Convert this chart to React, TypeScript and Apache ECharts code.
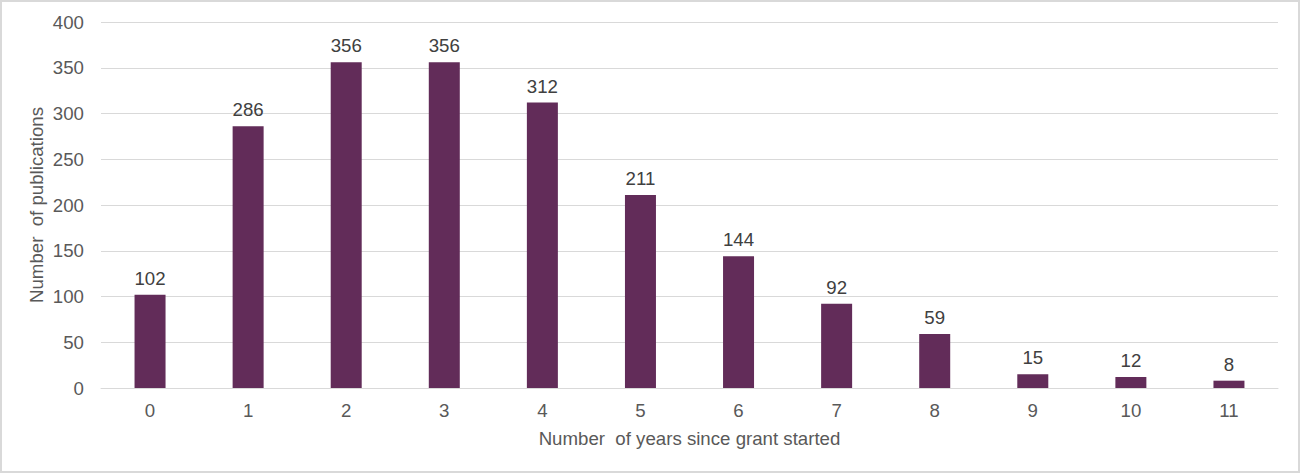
import React, { useEffect, useRef } from "react";
import * as echarts from "echarts";

const categories = ["0", "1", "2", "3", "4", "5", "6", "7", "8", "9", "10", "11"];
const publications = [102, 286, 356, 356, 312, 211, 144, 92, 59, 15, 12, 8];
const yTicks = { min: 0, max: 400, interval: 50 };
const xAxisTitle = "Number  of years since grant started";
const yAxisTitle = "Number  of publications";

export default function App() {
  const ref = useRef<HTMLDivElement>(null);
  useEffect(() => {
    document.body.style.margin = "0";
    const chart = echarts.init(ref.current!, null, { renderer: "svg" });
    const font = "Liberation Sans, Arial, sans-serif";
    const fs = 18.67;
    chart.setOption({
      animation: false,
      backgroundColor: "#ffffff",
      graphic: [
        {
          type: "rect",
          shape: { x: 1, y: 1, width: 1298, height: 471 },
          style: { fill: "none", stroke: "#d9d9d9", lineWidth: 2 },
          silent: true,
        },
      ],
      grid: { left: 101, right: 22, top: 22, bottom: 85 },
      xAxis: {
        type: "category",
        data: categories,
        name: xAxisTitle,
        nameLocation: "middle",
        nameGap: 41,
        nameTextStyle: { color: "#595959", fontSize: fs, fontFamily: font },
        axisLine: { show: true, lineStyle: { color: "#d9d9d9", width: 1 } },
        axisTick: { show: false },
        axisLabel: { color: "#595959", fontSize: fs, fontFamily: font, margin: 13 },
      },
      yAxis: {
        type: "value",
        min: yTicks.min,
        max: yTicks.max,
        interval: yTicks.interval,
        name: yAxisTitle,
        nameLocation: "middle",
        nameGap: 55,
        nameMoveOverlap: false,
        nameTextStyle: { color: "#595959", fontSize: fs, fontFamily: font },
        axisLine: { show: false },
        axisTick: { show: false },
        axisLabel: { color: "#595959", fontSize: fs, fontFamily: font, margin: 17 },
        splitLine: { lineStyle: { color: "#d9d9d9", width: 1 } },
      },
      series: [
        {
          type: "bar",
          data: publications,
          barWidth: 31,
          itemStyle: { color: "#622c59" },
          label: {
            show: true,
            position: "top",
            distance: 7,
            color: "#404040",
            fontSize: fs,
            fontFamily: font,
          },
        },
      ],
    });
    return () => chart.dispose();
  }, []);
  return (
    <div
      ref={ref}
      style={{ position: "absolute", left: 0, top: 0, width: 1300, height: 473 }}
    />
  );
}
